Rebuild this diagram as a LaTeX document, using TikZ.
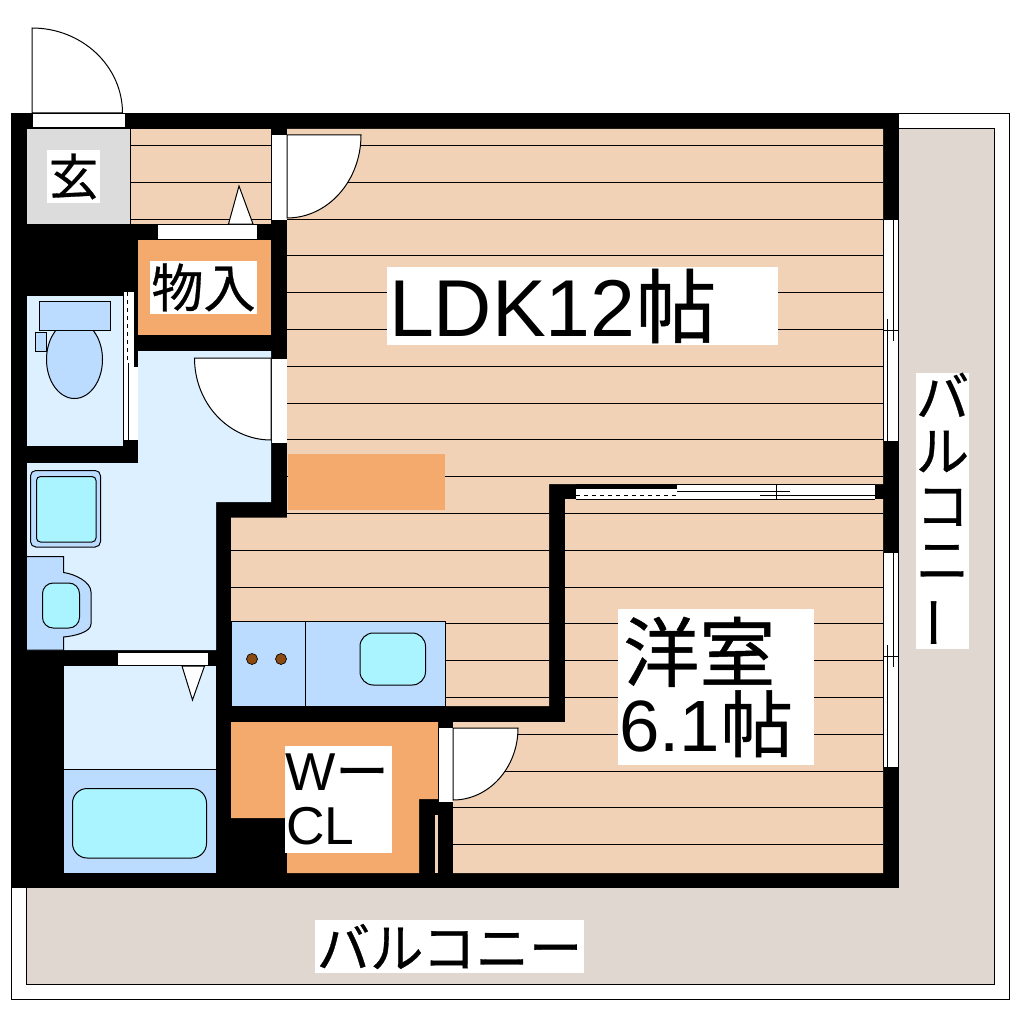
\documentclass[tikz,border=0pt]{standalone}
\usepackage{amsmath}
\usepackage{fontspec}
\setmainfont{Liberation Sans}
\newfontfamily\jpfont[FakeBold=0.6]{Noto Sans CJK JP}
\definecolor{woodfloor}{RGB}{242,210,182}
\definecolor{closetfloor}{RGB}{244,170,108}
\definecolor{wetfloor}{RGB}{220,240,255}
\definecolor{fixture}{RGB}{188,220,255}
\definecolor{basin}{RGB}{170,244,255}
\definecolor{balcony}{RGB}{224,216,208}
\definecolor{entrance}{RGB}{220,220,220}
\definecolor{burner}{RGB}{140,74,16}
\tikzset{
  thin line/.style={line width=0.75pt},
  doorleaf/.style={draw=black,fill=white,line width=0.75pt},
  roomlabel/.style={fill=white,inner sep=0pt,align=center},
  fixtureshape/.style={draw=black,fill=fixture,line width=0.75pt},
  basinshape/.style={draw=black,fill=basin,line width=0.75pt}
}
\begin{document}
\begin{tikzpicture}[x=0.75pt,y=0.75pt,yscale=-1,xscale=1]
\useasboundingbox (0,0) rectangle (1020,1020);
\path[fill=white] (0,0) rectangle (1020,1020);

%Balcony
\draw[thin line] (11,113.5) rectangle (1009,999.5);
\draw[thin line,fill=balcony] (26.5,128.5) rectangle (994.5,984);

%Entrance door
\draw[doorleaf] (122.5,113) arc[start angle=0,end angle=-90,x radius=90.5,y radius=85] -- (32,113) -- cycle;

%Building block, the rooms are cut out of it
\fill[black] (11,113) rectangle (898.5,888);
\draw[doorleaf] (32,113.5) rectangle (125,128);

%Floors
\fill[entrance] (27,129) rectangle (130,224);
\fill[woodfloor] (130,129) rectangle (271,224);
\fill[woodfloor] (287,129) -- (883,129) -- (883,484) -- (549,484) -- (549,706) -- (231,706) -- (231,517.5) -- (287,517.5) -- cycle;
\fill[woodfloor] (565,499) -- (883,499) -- (883,873) -- (453,873) -- (453,722) -- (565,722) -- cycle;

%Floor boards
\begin{scope}
\clip (130,129) rectangle (271,224)
  (287,129) -- (883,129) -- (883,484) -- (549,484) -- (549,706) -- (231,706) -- (231,517.5) -- (287,517.5) -- cycle
  (565,499) -- (883,499) -- (883,873) -- (453,873) -- (453,722) -- (565,722) -- cycle;
\foreach \k in {0,...,19}
  \draw[thin line] (130,{145.5+36.8*\k}) -- (883,{145.5+36.8*\k});
\end{scope}
\draw[thin line] (130,129) -- (130,224);

%Wet rooms
\fill[wetfloor] (27,296) rectangle (123,446);
\fill[wetfloor] (138,351) -- (271,351) -- (271,502) -- (216,502) -- (216,650) -- (27,650) -- (27,463) -- (138,463) -- cycle;
\fill[wetfloor] (64,666) rectangle (216,769);
\fill[fixture] (64,769) rectangle (216,873);
\draw[thin line] (64,769) -- (216,769);

%Storage and closet
\fill[closetfloor] (138,240) rectangle (271,335);
\fill[closetfloor] (231,722) -- (438,722) -- (438,799) -- (419,799) -- (419,873) -- (287,873) -- (287,818) -- (231,818) -- cycle;
\fill[closetfloor] (288,454) rectangle (445,510);
\fill[woodfloor] (435,815) rectangle (438,873);

%Toilet
\draw[fixtureshape] (74.5,359.5) ellipse [x radius=28,y radius=39];
\draw[fixtureshape] (35.5,332) rectangle (46,351.5);
\draw[fixtureshape] (39,301.5) rectangle (110,330);

%Washing machine place
\draw[fixtureshape,rounded corners=4pt] (30.5,470.5) rectangle (100.5,547);
\draw[basinshape,rounded corners=3pt] (36.5,476.5) rectangle (96,542);

%Wash basin
\draw[fixtureshape] (27,556.5) -- (63.5,556.5) -- (63.5,572.5) .. controls (75,574) and (91,582) .. (91,592) -- (91,624) .. controls (91,632) and (75,636) .. (63.5,637) -- (63.5,650) -- (27,650);
\draw[basinshape,rounded corners=8pt] (42.5,583) rectangle (79.5,628);

%Bath tub
\draw[basinshape,rounded corners=11pt] (72.5,788.5) rectangle (206.5,858);

%Kitchen
\draw[fixtureshape] (231,621) rectangle (445,706);
\draw[thin line] (305.5,621) -- (305.5,706);
\draw[basinshape,rounded corners=10pt] (360,633) rectangle (425.5,685);
\foreach \bx in {252,281}
  \draw[fill=burner,line width=0.5pt] (\bx,659) circle (5.5);

%Doors of the hall
\fill[white] (271.5,135) rectangle (287,220);
\draw[thin line] (271.5,135) -- (271.5,220);
\draw[doorleaf] (361,135) arc[start angle=0,end angle=90,x radius=74,y radius=83] -- (287,135) -- cycle;
\fill[white] (271.5,358) rectangle (287,443);
\draw[doorleaf] (194.5,358) arc[start angle=180,end angle=90,x radius=76.5,y radius=82] -- (271,358) -- cycle;
\draw[thin line] (271.5,358) -- (287,358);

%Storage door
\draw[doorleaf] (157,224.5) rectangle (257,239);
\draw[doorleaf] (228.5,224) -- (239,186) -- (253,224) -- cycle;

%Bath door
\draw[doorleaf] (117,652) rectangle (208,665.5);
\draw[doorleaf] (182,666) -- (192.5,700) -- (204.5,666) -- cycle;

%Toilet door
\fill[white] (123,292) rectangle (134,440);
\fill[white] (134,367) rectangle (138,440);
\draw[thin line] (123,292) -- (123,440);
\draw[thin line,dashed] (127.5,292) -- (127.5,363);
\draw[thin line] (128,363) -- (128,440);
\draw[thin line] (123,440) -- (138,440);

%Closet door
\fill[white] (438,728) rectangle (453,802);
\draw[thin line] (438,728) -- (438,802);
\draw[doorleaf] (518,728) arc[start angle=0,end angle=90,x radius=65,y radius=72] -- (453,728) -- cycle;

%Sliding door of the room
\fill[white] (576,484.5) rectangle (875,499);
\fill[black] (576,484) rectangle (677,488.5);
\draw[thin line] (677,484) -- (875,484);
\draw[thin line] (576,499) -- (875,499);
\draw[thin line] (677,491.5) -- (790,491.5);
\draw[thin line] (760,495) -- (875,495);
\draw[thin line,dashed] (576,495) -- (676,495);
\draw[thin line] (776.5,484) -- (776.5,499);

%Balcony windows
\foreach \wy/\wh in {220/330,553/656}{
  \fill[white] (883.5,\wy) rectangle (898,\wh+111);
  \draw[thin line] (883.5,\wy) -- (883.5,\wh+111);
  \draw[thin line] (898,\wy) -- (898,\wh+111);
  \draw[thin line] (893.5,\wy) -- (893.5,\wh+11);
  \draw[thin line] (887,\wh-11) -- (887,\wh+111);
  \draw[thin line] (883.5,\wh) -- (898,\wh);
}

%Labels
\node[roomlabel,minimum width=39.75pt,minimum height=39.75pt] (genkan) at (73.5,176.5) {\fontsize{37}{37}\jpfont 玄};
\node[roomlabel,minimum width=80.25pt,minimum height=39.75pt] (monoire) at (203.5,287.5) {\fontsize{39}{39}\jpfont 物入};
\node[roomlabel,minimum width=293.25pt,minimum height=58.5pt] (ldk) at (582.5,306) {\makebox[293.25pt][l]{\hspace{1.5pt}\fontsize{60.5}{60}\selectfont\raisebox{-1pt}{LDK12{\jpfont 帖}}}};
\node[roomlabel,minimum width=147pt,minimum height=117pt,font=\fontsize{57}{57}\selectfont] (yoshitsu) at (716,687) {\makebox[147pt][l]{\hspace{4pt}{\jpfont 洋室}}\\[-4pt]\makebox[147pt][l]{\hspace{1pt}\fontsize{54.5}{55}\selectfont 6.1{\jpfont 帖}}};
\node[roomlabel,minimum width=80.25pt,minimum height=80.25pt,font=\fontsize{40}{40}\selectfont] (wcl) at (338.5,799.5) {\makebox[80.25pt][l]{W{\jpfont ー}}\\[0pt]\makebox[80.25pt][l]{\hspace{1pt}CL}};
\node[roomlabel,minimum width=201.75pt,minimum height=39.75pt] (balconyh) at (449.5,946.5) {\fontsize{40}{40}\jpfont バルコニー};
\node[roomlabel,minimum width=39.75pt,minimum height=207pt,font=\fontsize{40}{40.8}\jpfont] (balconyv) at (942.5,511) {バ\\ル\\コ\\ニ\\\rotatebox[origin=c]{90}{ー}};

\end{tikzpicture}
\end{document}
